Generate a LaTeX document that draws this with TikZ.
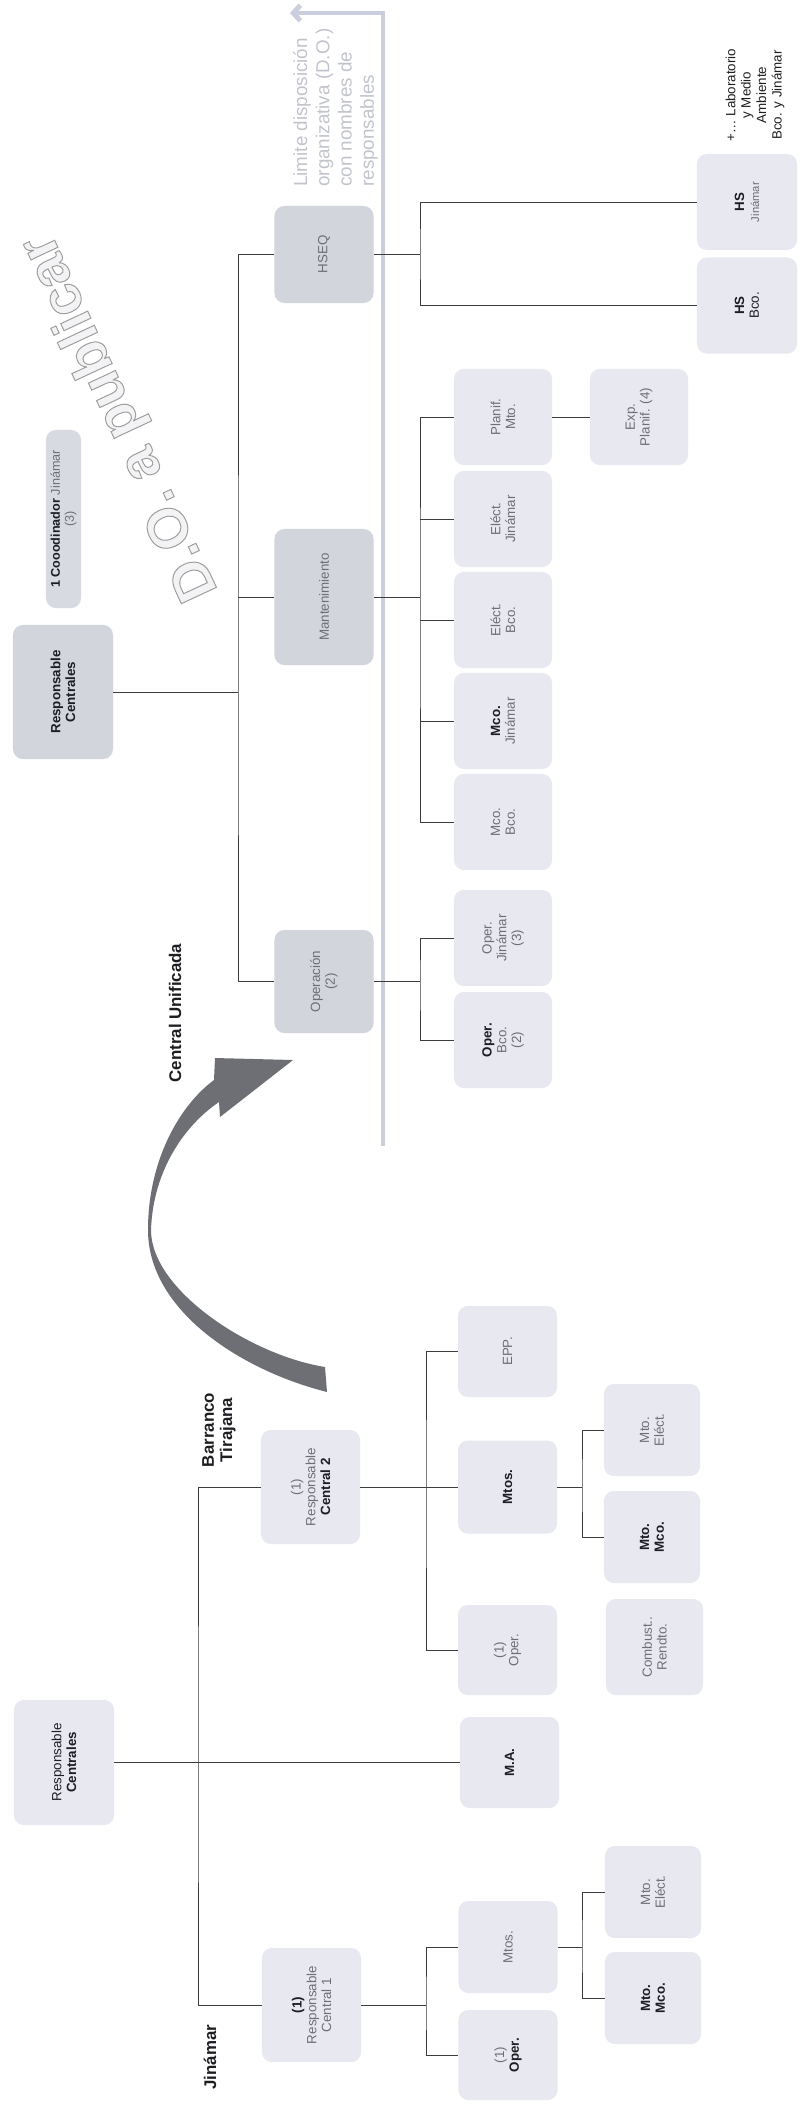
\documentclass[tikz,border=0pt]{standalone}
\usepackage{fontspec}
\setmainfont{Liberation Sans}
\usepackage{xcolor}
\usetikzlibrary{arrows.meta}
\definecolor{boxdark}{HTML}{D3D5DD}
\definecolor{boxlight}{HTML}{E7E8F0}
\definecolor{boxcoord}{HTML}{D8DAE2}
\definecolor{txtgray}{HTML}{6E6E76}
\definecolor{txtdark}{HTML}{1E1E22}
\definecolor{linecol}{HTML}{3C3C40}
\definecolor{limitcol}{HTML}{CBCEDC}
\definecolor{limittxt}{HTML}{C2C4CD}
\definecolor{arrowcol}{HTML}{6E6F74}
\definecolor{wmfill}{HTML}{F3F3F5}
\newcommand{\hi}[1]{\textcolor{txtdark}{\textbf{#1}}}

\begin{document}
\begin{tikzpicture}[x=0.025cm, y=-0.025cm,
    box/.style = {rotate=90, rounded corners=7pt, fill=boxlight, text=txtgray, align=center,
                  font=\fontsize{9.5}{10.5}\selectfont, inner sep=1pt,
                  minimum width=2.3cm, minimum height=2.475cm},
    dark/.style = {box, fill=boxdark},
    leaf/.style = {box, minimum width=2.4cm, minimum height=2.45cm},
    link/.style = {draw=linecol, line width=0.6pt},
    limit/.style = {draw=limitcol, line width=3.5pt, -{Straight Barb[length=5pt,width=11pt]}},
    tag/.style = {rotate=90, align=center, font=\fontsize{12}{13}\selectfont\bfseries, text=txtdark}]
    \useasboundingbox[fill=white] (0,0) rectangle (802,2112);

    \node[rotate=115, font=\fontsize{40}{40}\selectfont\bfseries, text=wmfill] (wm) at (121,417)
        {\special{pdf:literal direct 2 Tr 0.7 w 0.62 G}D.O. a publicar\special{pdf:literal direct 0 Tr}};

    \node[dark, minimum width=3.35cm, minimum height=2.5cm] (rct) at (63,692) {\hi{Responsable}\\\hi{Centrales}};
    \node[box, fill=boxcoord, minimum width=4.45cm, minimum height=0.875cm, inner sep=0pt,
          font=\fontsize{9}{10}\selectfont] (coord) at (63.5,519) {\hi{1 Cooodinador} Jinámar\\(3)};
    \node[dark, minimum width=2.425cm] (hseq) at (324,254.5) {HSEQ};
    \node[dark, minimum width=3.4cm] (mant) at (324,597) {Mantenimiento};
    \node[dark, minimum width=2.575cm] (oper) at (324,981.5) {Operación\\(2)};

    \node[leaf] (planif) at (503,417) {Planif.\\Mto.};
    \node[leaf] (electj) at (503,519) {Eléct.\\Jinámar};
    \node[leaf] (electb) at (503,620) {Eléct.\\Bco.};
    \node[leaf] (mcoj) at (503,721) {\hi{Mco.}\\Jinámar};
    \node[leaf] (mcob) at (503,822) {Mco.\\Bco.};
    \node[leaf] (expl) at (639,417) {Exp.\\Planif. (4)};
    \node[leaf, minimum height=2.5cm] (hsj) at (747,202) {\hi{HS}\\{\fontsize{8}{9}\selectfont Jinámar}};
    \node[leaf, minimum height=2.5cm] (hsb) at (747,305.5) {\hi{HS}\\\textcolor{txtdark}{Bco.}};
    \node[leaf] (operj) at (503,938) {Oper.\\Jinámar\\(3)};
    \node[leaf] (operb) at (503,1040) {\hi{Oper.}\\Bco.\\(2)};

    \node[rotate=90, align=center, font=\fontsize{9.5}{11}\selectfont, text=txtdark] (note) at (755,95)
        {+… Laboratorio\\y Medio\\Ambiente\\Bco. y Jinámar};

    \coordinate (limbot) at (383,1146);
    \coordinate (limtop) at (383,13);
    \coordinate (limtip) at (290,13);
    \draw[limit] (limbot) -- (limtop) -- (limtip);
    \node[rotate=90, anchor=north west, align=left, inner sep=0pt, text=limittxt,
          font=\fontsize{13.4}{15.8}\selectfont] (limtxt) at (293,187)
        {Limite disposición\\organizativa (D.O.)\\con nombres de\\responsables};

    \coordinate (bt) at (238,692);
    \coordinate (bh) at (420,254.5);
    \coordinate (bm) at (420,597);
    \coordinate (bo) at (420,981.5);
    \draw[link] (rct) -- (bt);
    \draw[link] (hseq) -| (bt) |- (oper);
    \draw[link] (bt |- mant) -- (mant);
    \draw[link] (hseq) -- (bh);
    \draw[link] (hsj) -| (bh) |- (hsb);
    \draw[link] (mant) -- (bm);
    \draw[link] (planif) -| (bm) |- (mcob);
    \draw[link] (bm |- electj) -- (electj);
    \draw[link] (bm |- electb) -- (electb);
    \draw[link] (bm |- mcoj) -- (mcoj);
    \draw[link] (planif) -- (expl);
    \draw[link] (oper) -- (bo);
    \draw[link] (operj) -| (bo) |- (operb);

    \node[tag] (cu) at (175,1013) {Central Unificada};
    \fill[arrowcol] (327,1392) .. controls (240,1370) and (148,1310) .. (148,1230)
        .. controls (148,1160) and (180,1105) .. (214,1080) -- (215,1058) -- (293,1060)
        -- (220,1117) -- (219,1102) .. controls (185,1125) and (153,1170) .. (151,1230)
        .. controls (151,1290) and (250,1355) .. (325,1367) -- cycle;

    \node[box, minimum width=3.125cm, minimum height=2.5cm] (rcb) at (64,1762.5)
        {\textcolor{txtdark}{Responsable}\\\hi{Centrales}};
    \node[box, minimum width=2.275cm] (ma) at (509.5,1762.5) {\hi{M.A.}};
    \node[box, minimum width=2.85cm] (rc2) at (310.5,1487) {(1)\\Responsable\\\hi{Central 2}};
    \node[box, minimum width=2.85cm] (rc1) at (311.5,2005) {\hi{(1)}\\Responsable\\Central 1};
    \node[box, minimum width=2.275cm] (epp) at (507.5,1351.5) {EPP.};
    \node[box, minimum width=2.325cm] (mtos2) at (507.5,1487) {\hi{Mtos.}};
    \node[box, minimum width=2.25cm] (oper2) at (507.5,1650) {(1)\\Oper.};
    \node[box, minimum height=2.4cm] (mtoe2) at (652,1430) {Mto.\\Eléct.};
    \node[box, minimum height=2.4cm] (mtom2) at (652,1537) {\hi{Mto.}\\\hi{Mco.}};
    \node[box, minimum width=2.4cm, minimum height=2.425cm] (comb) at (654.5,1647) {Combust..\\Rendto.};
    \node[box, minimum width=2.3cm] (mtos1) at (508,1947) {Mtos.};
    \node[box, minimum width=2.25cm] (oper1) at (508,2055) {(1)\\\hi{Oper.}};
    \node[box, minimum height=2.4cm] (mtoe1) at (653,1892) {Mto.\\Eléct.};
    \node[box, minimum height=2.4cm] (mtom1) at (653,1998) {\hi{Mto.}\\\hi{Mco.}};

    \node[tag] (jin) at (210,2057) {Jinámar};
    \node[tag] (barr) at (219,1430) {Barranco\\Tirajana};

    \coordinate (b0) at (198,1762.5);
    \coordinate (b2) at (426,1487);
    \coordinate (b1) at (426,2005);
    \coordinate (c2) at (582,1487);
    \coordinate (c1) at (582,1947);
    \draw[link] (rcb) -- (ma);
    \draw[link] (rc2) -| (b0) |- (rc1);
    \draw[link] (rc2) -- (b2);
    \draw[link] (epp) -| (b2) |- (oper2);
    \draw[link] (b2) -- (mtos2);
    \draw[link] (mtos2) -- (c2);
    \draw[link] (mtoe2) -| (c2) |- (mtom2);
    \draw[link] (rc1) -- (b1);
    \draw[link] (mtos1) -| (b1) |- (oper1);
    \draw[link] (mtos1) -- (c1);
    \draw[link] (mtoe1) -| (c1) |- (mtom1);
\end{tikzpicture}
\end{document}
